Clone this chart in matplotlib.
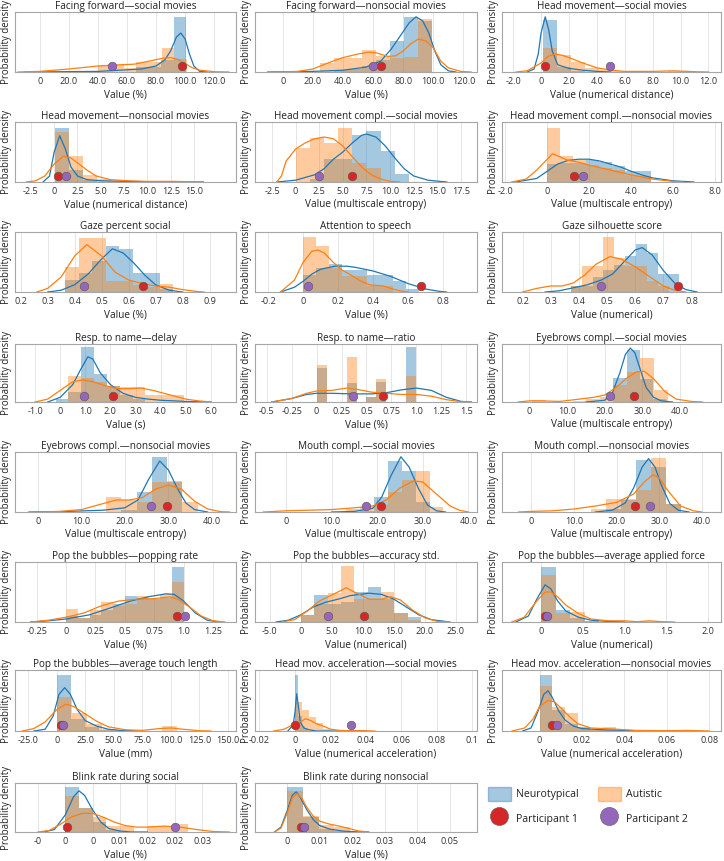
import numpy as np
import matplotlib.pyplot as plt
from matplotlib.patches import Patch
from matplotlib.lines import Line2D

plt.rcParams['font.family'] = ['Open Sans', 'DejaVu Sans']
plt.rcParams['text.color'] = '#222222'
plt.rcParams['axes.labelcolor'] = '#222222'
plt.rcParams['xtick.color'] = '#333333'

NT_COLOR = '#1f77b4'
AU_COLOR = '#ff7f0e'
P1_COLOR = '#d62728'
P2_COLOR = '#9467bd'

titles = [
    'Facing forward\u2014social movies', 'Facing forward\u2014nonsocial movies', 'Head movement\u2014social movies',
    'Head movement\u2014nonsocial movies', 'Head movement compl.\u2014social movies', 'Head movement compl.\u2014nonsocial movies',
    'Gaze percent social', 'Attention to speech', 'Gaze silhouette score',
    'Resp. to name\u2014delay', 'Resp. to name\u2014ratio', 'Eyebrows compl.\u2014social movies',
    'Eyebrows compl.\u2014nonsocial movies', 'Mouth compl.\u2014social movies', 'Mouth compl.\u2014nonsocial movies',
    'Pop the bubbles\u2014popping rate', 'Pop the bubbles\u2014accuracy std.', 'Pop the bubbles\u2014average applied force',
    'Pop the bubbles\u2014average touch length', 'Head mov. acceleration\u2014social movies', 'Head mov. acceleration\u2014nonsocial movies',
    'Blink rate during social', 'Blink rate during nonsocial',
]

xlabels = [
    'Value (%)', 'Value (%)', 'Value (numerical distance)',
    'Value (numerical distance)', 'Value (multiscale entropy)', 'Value (multiscale entropy)',
    'Value (%)', 'Value (%)', 'Value (numerical)',
    'Value (s)', 'Value (%)', 'Value (multiscale entropy)',
    'Value (multiscale entropy)', 'Value (multiscale entropy)', 'Value (multiscale entropy)',
    'Value (%)', 'Value (numerical)', 'Value (numerical)',
    'Value (mm)', 'Value (numerical acceleration)', 'Value (numerical acceleration)',
    'Value (%)', 'Value (%)',
]

xlims = [
    (-17, 135), (-18.4, 129), (-2.8, 12.9),
    (-4.2, 19.5), (-4.3, 19.2), (-2.16, 8.3),
    (0.179, 0.998), (-0.276, 0.994), (0.127, 0.905),
    (-1.8, 7.0), (-0.617, 1.607), (-7.3, 50.9),
    (-5.2, 45.5), (-6.8, 41.9), (-6.9, 44.5),
    (-0.435, 1.446), (-7.4, 28.4), (-0.466, 2.155),
    (-36.5, 157), (-0.0225, 0.1026), (-0.0177, 0.0855),
    (-0.0092, 0.0312), (-0.01, 0.0584),
]

xticks = [
    [0, 20, 40, 60, 80, 100, 120], [0, 20, 40, 60, 80, 100, 120], [-2, 0, 2, 4, 6, 8, 10, 12],
    [-2.5, 0, 2.5, 5, 7.5, 10, 12.5, 15], [-2.5, 0, 2.5, 5, 7.5, 10, 12.5, 15, 17.5], [-2, 0, 2, 4, 6, 8],
    [0.2, 0.3, 0.4, 0.5, 0.6, 0.7, 0.8, 0.9], [-0.2, 0, 0.2, 0.4, 0.6, 0.8], [0.2, 0.3, 0.4, 0.5, 0.6, 0.7, 0.8],
    [-1, 0, 1, 2, 3, 4, 5, 6], [-0.5, -0.25, 0, 0.25, 0.5, 0.75, 1.0, 1.25, 1.5], [0, 10, 20, 30, 40],
    [0, 10, 20, 30, 40], [0, 10, 20, 30, 40], [0, 10, 20, 30, 40],
    [-0.25, 0, 0.25, 0.5, 0.75, 1.0, 1.25], [-5, 0, 5, 10, 15, 20, 25], [0, 0.5, 1.0, 1.5, 2.0],
    [-25, 0, 25, 50, 75, 100, 125, 150], [-0.02, 0, 0.02, 0.04, 0.06, 0.08, 0.1], [0, 0.02, 0.04, 0.06, 0.08],
    [-0.005, 0, 0.005, 0.01, 0.015, 0.02, 0.025], [0, 0.01, 0.02, 0.03, 0.04, 0.05],
]

xticklabels = [
    ['0', '20.0', '40.0', '60.0', '80.0', '100.0', '120.0'],
    ['0', '20.0', '40.0', '60.0', '80.0', '100.0', '120.0'],
    ['-2.0', '0', '2.0', '4.0', '6.0', '8.0', '10.0', '12.0'],
    ['-2.5', '0', '2.5', '5.0', '7.5', '10.0', '12.5', '15.0'],
    ['-2.5', '0', '2.5', '5.0', '7.5', '10.0', '12.5', '15.0', '17.5'],
    ['-2.0', '0', '2.0', '4.0', '6.0', '8.0'],
    ['0.2', '0.3', '0.4', '0.5', '0.6', '0.7', '0.8', '0.9'],
    ['-0.2', '0', '0.2', '0.4', '0.6', '0.8'],
    ['0.2', '0.3', '0.4', '0.5', '0.6', '0.7', '0.8'],
    ['-1.0', '0', '1.0', '2.0', '3.0', '4.0', '5.0', '6.0'],
    ['-0.5', '-0.25', '0', '0.25', '0.5', '0.75', '1.0', '1.25', '1.5'],
    ['0', '10.0', '20.0', '30.0', '40.0'],
    ['0', '10.0', '20.0', '30.0', '40.0'],
    ['0', '10.0', '20.0', '30.0', '40.0'],
    ['0', '10.0', '20.0', '30.0', '40.0'],
    ['-0.25', '0', '0.25', '0.5', '0.75', '1.0', '1.25'],
    ['-5.0', '0', '5.0', '10.0', '15.0', '20.0', '25.0'],
    ['0', '0.5', '1.0', '1.5', '2.0'],
    ['-25.0', '0', '25.0', '50.0', '75.0', '100.0', '125.0', '150.0'],
    ['-0.02', '0', '0.02', '0.04', '0.06', '0.08', '0.1'],
    ['0', '0.02', '0.04', '0.06', '0.08'],
    ['-0', '0', '0', '0.01', '0.02', '0.02', '0.03'],
    ['0', '0.01', '0.02', '0.03', '0.04', '0.05'],
]

# histogram bins: (first edge, bin width); heights are relative densities
nt_bins = [
    (66, 8.7), (34.3, 9.3), (0.12, 1.0),
    (0.1, 1.5), (1.5, 1.5), (0, 0.62),
    (0.365, 0.05), (0, 0.0735), (0.372, 0.0385),
    (-0.18, 0.51), (0, 0.1), (22.3, 3.5),
    (19.2, 3.5), (16.3, 3.05), (17.5, 3.5),
    (0, 0.1), (0, 2.15), (0, 0.175),
    (0, 12.3), (0, 0.0019), (0, 0.006),
    (0, 0.0025), (0, 0.0048),
]
nt_heights = [
    [0.08, 0.08, 0.2, 0.92],
    [0.03, 0.05, 0.1, 0.2, 0.51, 0.92, 0.85],
    [0.86, 0.09, 0.02],
    [0.90, 0.2, 0.04],
    [0.05, 0.38, 0.38, 0.78, 0.85, 0.51, 0.14],
    [0.30, 0.32, 0.32, 0.37, 0.33, 0.26, 0.18, 0.18],
    [0.2, 0.32, 0.52, 0.77, 0.72, 0.32, 0.32, 0.05],
    [0.28, 0.4, 0.46, 0.36, 0.36, 0.29, 0.29, 0.18, 0.05],
    [0.1, 0.1, 0.25, 0.36, 0.45, 0.6, 0.8, 0.65, 0.3, 0.3],
    [0.06, 0.17, 0.95, 0.48, 0.27, 0.12, 0.05],
    [0.58, 0, 0, 0.33, 0, 0.09, 0.35, 0, 0, 0.95],
    [0.42, 0.9, 0.4, 0.05],
    [0.04, 0.33, 0.91, 0.5],
    [0.02, 0.25, 0.85, 0.69, 0.17],
    [0.05, 0.2, 0.86, 0.75, 0.14],
    [0.1, 0.07, 0.12, 0.2, 0.3, 0.44, 0.4, 0.38, 0.4, 0.92],
    [0.12, 0.45, 0.3, 0.33, 0.5, 0.59, 0.38, 0.15, 0.08],
    [0.92, 0.2, 0.07, 0.02],
    [0.91, 0.2, 0.07, 0.02],
    [0.91, 0.25, 0.08, 0.03],
    [0.91, 0.35, 0.11, 0.06, 0.02, 0.02],
    [0.91, 0.48, 0.2, 0.05],
    [0.91, 0.3, 0.07, 0.03],
]

au_bins = [
    (40.3, 8.7), (25, 9.3), (0.12, 1.0),
    (0.1, 1.5), (0, 1.5), (0, 0.62),
    (0.365, 0.05), (0, 0.0735), (0.372, 0.0385),
    (0.33, 0.51), (0, 0.1), (0.7, 3.6),
    (15.7, 3.5), (13.2, 3.05), (14, 3.5),
    (0, 0.1), (0, 2.15), (0, 0.175),
    (0, 13.2), (0, 0.004), (0, 0.006),
    (0, 0.0025), (0, 0.0048),
]
au_heights = [
    [0.12, 0.12, 0.07, 0.16, 0.16, 0.40, 0.22],
    [0.15, 0.23, 0.23, 0.36, 0.26, 0.23, 0.25, 0.89],
    [0.40, 0.28, 0.17, 0.07, 0.03, 0.01, 0, 0, 0, 0.01, 0.01],
    [0.83, 0.43, 0.12, 0.05, 0.02, 0.01, 0.01, 0, 0.01],
    [0.57, 0.74, 0.65, 0.90, 0.31, 0.23],
    [0.90, 0.43, 0.36, 0.28, 0.24, 0.2, 0.12, 0.1],
    [0.41, 0.9, 0.9, 0.18, 0.18, 0.12, 0.08, 0.13],
    [0.91, 0.77, 0.4, 0.26, 0.26, 0.1, 0.1],
    [0.1, 0.44, 0.44, 0.91, 0.57, 0.44, 0.44, 0.18, 0.1],
    [0.44, 0.41, 0.35, 0.27, 0.25, 0.25, 0.12, 0.12, 0.12],
    [0.63, 0, 0, 0.78, 0, 0.09, 0.39, 0, 0, 0.44],
    [0.03, 0, 0, 0.02, 0.05, 0.08, 0.3, 0.52, 0.76, 0.2],
    [0.25, 0.2, 0.17, 0.5, 0.51, 0.17],
    [0.05, 0.08, 0.11, 0.33, 0.54, 0.69, 0.08],
    [0.05, 0.22, 0.22, 0.36, 0.9, 0.14],
    [0.21, 0.07, 0.2, 0.33, 0.26, 0.3, 0.44, 0.38, 0.47, 0.66],
    [0.12, 0.3, 0.49, 0.93, 0.38, 0.38, 0.5, 0.15, 0.03],
    [0.79, 0.15, 0.16, 0.02, 0, 0.01, 0, 0.01],
    [0.56, 0.29, 0.11, 0.03, 0, 0, 0, 0.08],
    [0.48, 0.34, 0.23, 0.13, 0.03],
    [0.74, 0.4, 0.29, 0.05, 0.04, 0.07, 0.01],
    [0.73, 0.48, 0.3, 0.12, 0.12, 0, 0.12, 0.12, 0.16],
    [0.83, 0.32, 0.14, 0.1, 0.02],
]

# density curves as (value, relative density)
nt_kde = [
    [(-10, 0), (40, 0.01), (70, 0.05), (80, 0.1), (86, 0.2), (90, 0.35), (94, 0.58), (97, 0.65), (100, 0.55), (103, 0.3), (106, 0.1), (110, 0.01), (115, 0)],
    [(-10, 0), (20, 0.01), (40, 0.03), (55, 0.08), (65, 0.18), (72, 0.38), (78, 0.6), (84, 0.82), (88.5, 0.92), (93, 0.85), (97, 0.65), (101, 0.35), (105, 0.12), (110, 0.02), (115, 0)],
    [(-1.0, 0), (-0.5, 0.05), (-0.2, 0.3), (0, 0.65), (0.3, 0.92), (0.55, 0.7), (0.8, 0.35), (1.2, 0.12), (2, 0.06), (3, 0.03), (4, 0.01), (5, 0)],
    [(-1.2, 0), (-0.5, 0.1), (0, 0.5), (0.6, 0.77), (1.2, 0.55), (1.8, 0.25), (2.5, 0.1), (3.5, 0.04), (5, 0.02), (8, 0.01), (12, 0), (16, 0)],
    [(-2, 0), (0, 0.03), (2, 0.12), (3, 0.22), (4, 0.38), (5, 0.5), (6, 0.65), (7, 0.78), (7.5, 0.8), (8.5, 0.75), (9.5, 0.6), (10.5, 0.4), (11.5, 0.22), (12.5, 0.1), (14, 0.03), (16, 0)],
    [(-1.5, 0), (-0.5, 0.06), (0, 0.18), (0.5, 0.3), (1, 0.36), (1.5, 0.38), (2, 0.38), (2.5, 0.35), (3, 0.3), (3.5, 0.25), (4, 0.18), (4.5, 0.12), (5, 0.07), (6, 0.02), (7, 0)],
    [(0.3, 0), (0.35, 0.03), (0.4, 0.12), (0.45, 0.3), (0.5, 0.55), (0.54, 0.72), (0.58, 0.65), (0.62, 0.48), (0.66, 0.28), (0.7, 0.12), (0.75, 0.03), (0.8, 0)],
    [(-0.13, 0), (-0.05, 0.08), (0, 0.18), (0.05, 0.3), (0.1, 0.38), (0.18, 0.43), (0.25, 0.43), (0.3, 0.41), (0.4, 0.35), (0.5, 0.26), (0.6, 0.14), (0.7, 0.05), (0.78, 0.01), (0.82, 0)],
    [(0.28, 0), (0.33, 0.02), (0.38, 0.07), (0.43, 0.12), (0.48, 0.2), (0.52, 0.3), (0.56, 0.5), (0.6, 0.7), (0.625, 0.74), (0.66, 0.62), (0.7, 0.36), (0.74, 0.15), (0.78, 0.04), (0.82, 0)],
    [(-0.5, 0), (0, 0.08), (0.5, 0.3), (0.8, 0.55), (1.1, 0.78), (1.3, 0.74), (1.6, 0.5), (2, 0.3), (2.5, 0.15), (3, 0.08), (3.5, 0.05), (4, 0.03), (5, 0.01), (6, 0)],
    [(-0.45, 0), (-0.25, 0.06), (-0.1, 0.13), (0, 0.15), (0.15, 0.15), (0.35, 0.14), (0.55, 0.14), (0.7, 0.16), (0.85, 0.21), (1.0, 0.24), (1.15, 0.2), (1.3, 0.08), (1.45, 0.01), (1.55, 0)],
    [(15, 0), (20, 0.03), (22, 0.15), (24, 0.5), (25.5, 0.82), (26.8, 0.93), (28, 0.85), (29.5, 0.55), (31, 0.25), (33, 0.08), (35, 0.02), (38, 0)],
    [(-2, 0), (5, 0.005), (15, 0.03), (20, 0.07), (23, 0.2), (25.5, 0.55), (28, 0.85), (30, 0.7), (32, 0.4), (34, 0.15), (36, 0.04), (39, 0)],
    [(10, 0), (15, 0.01), (19, 0.06), (21, 0.25), (23, 0.6), (25.2, 0.92), (27, 0.75), (29, 0.4), (31, 0.12), (33, 0.02), (35, 0)],
    [(15, 0), (19, 0.03), (22, 0.15), (24, 0.4), (26, 0.75), (27.5, 0.89), (29, 0.75), (30.5, 0.45), (32.5, 0.14), (34.5, 0.03), (37, 0)],
    [(-0.3, 0), (-0.15, 0.02), (0, 0.05), (0.2, 0.12), (0.4, 0.25), (0.55, 0.35), (0.7, 0.42), (0.85, 0.47), (0.92, 0.46), (1.0, 0.35), (1.1, 0.15), (1.2, 0.03), (1.3, 0)],
    [(-4, 0), (-2, 0.03), (0, 0.12), (2, 0.25), (4, 0.33), (6, 0.38), (8, 0.44), (11, 0.48), (13, 0.46), (15, 0.38), (17, 0.25), (19, 0.12), (21, 0.04), (24, 0)],
    [(-0.3, 0), (-0.15, 0.1), (-0.05, 0.38), (0.05, 0.62), (0.12, 0.55), (0.2, 0.35), (0.3, 0.18), (0.45, 0.08), (0.6, 0.03), (0.8, 0.01), (1.0, 0)],
    [(-20, 0), (-10, 0.03), (-3, 0.25), (2, 0.6), (7, 0.71), (12, 0.6), (18, 0.35), (25, 0.17), (35, 0.08), (45, 0.03), (55, 0.01), (70, 0)],
    [(-0.004, 0), (-0.001, 0.1), (0, 0.3), (0.001, 0.61), (0.002, 0.4), (0.003, 0.15), (0.005, 0.05), (0.008, 0.02), (0.012, 0), (0.04, 0)],
    [(-0.008, 0), (-0.004, 0.05), (-0.001, 0.3), (0.002, 0.6), (0.004, 0.66), (0.006, 0.55), (0.009, 0.33), (0.012, 0.18), (0.016, 0.08), (0.02, 0.04), (0.03, 0.02), (0.04, 0.01), (0.05, 0), (0.07, 0)],
    [(-0.004, 0), (-0.002, 0.05), (0, 0.35), (0.0015, 0.72), (0.0025, 0.84), (0.0035, 0.75), (0.005, 0.45), (0.0065, 0.2), (0.008, 0.07), (0.01, 0.02), (0.012, 0), (0.015, 0)],
    [(-0.004, 0), (-0.002, 0.1), (0, 0.45), (0.0015, 0.75), (0.0027, 0.82), (0.004, 0.7), (0.006, 0.45), (0.008, 0.25), (0.01, 0.13), (0.013, 0.06), (0.017, 0.02), (0.022, 0), (0.025, 0)],
]

au_kde = [
    [(-15, 0), (0, 0.01), (20, 0.05), (40, 0.1), (55, 0.12), (65, 0.13), (75, 0.18), (85, 0.23), (90, 0.24), (95, 0.21), (100, 0.14), (105, 0.07), (110, 0.03), (120, 0.005), (130, 0)],
    [(-5, 0), (10, 0.01), (20, 0.05), (30, 0.15), (40, 0.24), (50, 0.3), (57, 0.33), (62, 0.32), (70, 0.26), (75, 0.27), (80, 0.35), (85, 0.47), (90, 0.55), (95, 0.52), (100, 0.4), (105, 0.18), (110, 0.07), (118, 0.01), (125, 0)],
    [(-1.8, 0), (-1, 0.02), (0, 0.15), (0.5, 0.26), (1, 0.3), (1.5, 0.28), (2, 0.24), (3, 0.15), (4, 0.07), (5, 0.03), (6, 0.01), (8, 0.01), (9.5, 0.02), (11, 0.005), (12, 0)],
    [(-3, 0), (-2, 0.02), (-1, 0.1), (0, 0.3), (1, 0.43), (1.8, 0.4), (2.5, 0.32), (3.5, 0.2), (4.5, 0.1), (6, 0.04), (8, 0.02), (10, 0.01), (13, 0.01), (16, 0)],
    [(-2, 0), (-1.5, 0.1), (-1, 0.35), (0, 0.55), (1, 0.65), (2, 0.72), (3, 0.75), (4, 0.72), (5, 0.6), (6, 0.42), (7, 0.25), (8, 0.12), (9, 0.05), (10, 0.01), (11, 0)],
    [(-1.7, 0), (-1, 0.05), (-0.5, 0.2), (0, 0.38), (0.25, 0.47), (0.6, 0.42), (1, 0.36), (1.5, 0.33), (2, 0.28), (3, 0.2), (4, 0.12), (5, 0.05), (6, 0.01), (6.5, 0)],
    [(0.26, 0), (0.3, 0.06), (0.35, 0.25), (0.4, 0.6), (0.445, 0.79), (0.5, 0.6), (0.55, 0.33), (0.6, 0.2), (0.65, 0.14), (0.7, 0.1), (0.75, 0.08), (0.8, 0.04), (0.85, 0.01), (0.88, 0)],
    [(-0.13, 0), (-0.05, 0.2), (0, 0.5), (0.05, 0.68), (0.085, 0.7), (0.12, 0.65), (0.17, 0.5), (0.22, 0.37), (0.28, 0.27), (0.33, 0.18), (0.38, 0.12), (0.42, 0.11), (0.46, 0.1), (0.5, 0.06), (0.55, 0.02), (0.6, 0)],
    [(0.2, 0), (0.25, 0.06), (0.3, 0.1), (0.34, 0.1), (0.38, 0.15), (0.42, 0.28), (0.46, 0.46), (0.51, 0.59), (0.55, 0.55), (0.6, 0.42), (0.65, 0.26), (0.7, 0.1), (0.74, 0.03), (0.78, 0)],
    [(-1, 0), (-0.5, 0.05), (0, 0.2), (0.5, 0.35), (0.9, 0.38), (1.3, 0.35), (1.8, 0.28), (2.3, 0.23), (2.8, 0.23), (3.2, 0.24), (3.7, 0.2), (4.3, 0.13), (5, 0.05), (5.5, 0.02), (6, 0)],
    [(-0.45, 0), (-0.25, 0.06), (-0.1, 0.15), (0, 0.19), (0.15, 0.2), (0.3, 0.24), (0.4, 0.22), (0.55, 0.17), (0.7, 0.15), (0.85, 0.13), (1.0, 0.13), (1.15, 0.1), (1.3, 0.04), (1.45, 0.005), (1.55, 0)],
    [(-3, 0), (0, 0.02), (3, 0.02), (8, 0.01), (12, 0.04), (17, 0.08), (20, 0.12), (23, 0.25), (26, 0.42), (28.5, 0.52), (30.5, 0.53), (33, 0.4), (36, 0.18), (39, 0.05), (43, 0.01), (46, 0)],
    [(0, 0), (5, 0.01), (10, 0.04), (15, 0.14), (18, 0.2), (21, 0.2), (24, 0.24), (27, 0.38), (30, 0.45), (33, 0.38), (36, 0.18), (39, 0.05), (42, 0.005), (44, 0)],
    [(-5, 0), (0, 0.02), (5, 0.03), (10, 0.04), (15, 0.07), (19, 0.1), (22, 0.2), (25, 0.4), (28, 0.52), (30, 0.5), (33, 0.3), (36, 0.1), (38, 0.03), (40, 0)],
    [(-3, 0), (0, 0.01), (5, 0.02), (10, 0.05), (15, 0.1), (20, 0.16), (24, 0.3), (26.5, 0.5), (28.5, 0.62), (30, 0.57), (32, 0.36), (35, 0.1), (38, 0.02), (40, 0)],
    [(-0.3, 0), (-0.15, 0.03), (0, 0.08), (0.15, 0.15), (0.3, 0.27), (0.45, 0.35), (0.6, 0.38), (0.75, 0.39), (0.88, 0.42), (0.95, 0.38), (1.05, 0.25), (1.15, 0.1), (1.25, 0.02), (1.35, 0)],
    [(-3, 0), (-1, 0.04), (1, 0.18), (3, 0.35), (5, 0.45), (7.3, 0.57), (9, 0.48), (11, 0.38), (13, 0.38), (14.5, 0.42), (16, 0.37), (18, 0.2), (20, 0.07), (22, 0.01), (24, 0)],
    [(-0.35, 0), (-0.2, 0.08), (-0.05, 0.35), (0.05, 0.5), (0.12, 0.5), (0.2, 0.42), (0.3, 0.28), (0.45, 0.14), (0.6, 0.05), (0.8, 0.02), (1.0, 0.02), (1.15, 0.005), (1.3, 0.02), (1.45, 0.005), (1.6, 0)],
    [(-30, 0), (-20, 0.04), (-10, 0.15), (0, 0.35), (8, 0.44), (15, 0.4), (25, 0.28), (35, 0.16), (45, 0.07), (60, 0.02), (75, 0.01), (90, 0.04), (100, 0.05), (110, 0.03), (125, 0.005), (135, 0)],
    [(-0.012, 0), (-0.006, 0.03), (-0.002, 0.09), (0, 0.12), (0.003, 0.15), (0.006, 0.2), (0.009, 0.17), (0.012, 0.12), (0.016, 0.08), (0.02, 0.03), (0.025, 0.01), (0.03, 0.005), (0.04, 0.003), (0.045, 0)],
    [(-0.013, 0), (-0.007, 0.05), (-0.003, 0.2), (0, 0.4), (0.004, 0.5), (0.007, 0.48), (0.01, 0.38), (0.014, 0.24), (0.018, 0.12), (0.024, 0.05), (0.03, 0.04), (0.036, 0.03), (0.045, 0.01), (0.06, 0.005), (0.07, 0.01), (0.08, 0)],
    [(-0.005, 0), (-0.003, 0.03), (-0.001, 0.15), (0.001, 0.3), (0.003, 0.38), (0.005, 0.38), (0.007, 0.3), (0.009, 0.2), (0.011, 0.13), (0.013, 0.1), (0.015, 0.1), (0.018, 0.12), (0.021, 0.1), (0.024, 0.05), (0.027, 0.01), (0.03, 0)],
    [(-0.004, 0), (-0.002, 0.08), (0, 0.4), (0.0015, 0.7), (0.003, 0.78), (0.0045, 0.68), (0.006, 0.5), (0.008, 0.32), (0.01, 0.22), (0.013, 0.16), (0.016, 0.12), (0.019, 0.07), (0.022, 0.02), (0.025, 0)],
]

participant1 = [98.2, 65.5, 0.29, 0.46, 5.95, 1.27, 0.655, 0.672, 0.753, 2.09, 0.667, 27.8,
                29.7, 20.8, 24.2, 0.94, 10.2, 0.044, 3.8, 0.0002, 0.0058, 0.0003, 0.0041]
participant2 = [50.0, 59.7, 4.93, 1.3, 2.46, 1.7, 0.434, 0.029, 0.477, 0.93, 0.36, 21.5,
                26.0, 17.5, 27.9, 1.01, 4.3, 0.076, 5.8, 0.0315, 0.0082, 0.02, 0.005]

# layout in pixels of the 724 x 861 figure
W, H = 724, 861
col_left = [15, 255, 502]
col_width = [221, 222, 219]
row_top = [12, 122, 232, 344, 452, 562, 670, 783]
row_height = [60, 60, 60, 58, 60, 60, 61, 49]

fig = plt.figure(figsize=(W / 100, H / 100), dpi=100)

for i, title in enumerate(titles):
    r, c = divmod(i, 3)
    ax = fig.add_axes([col_left[c] / W, 1 - (row_top[r] + row_height[r]) / H,
                       col_width[c] / W, row_height[r] / H])

    start, width = nt_bins[i]
    h = nt_heights[i]
    ax.bar(start + width * np.arange(len(h)), h, width=width, align='edge',
           color=NT_COLOR, alpha=0.4, linewidth=0)
    start, width = au_bins[i]
    h = au_heights[i]
    ax.bar(start + width * np.arange(len(h)), h, width=width, align='edge',
           color=AU_COLOR, alpha=0.4, linewidth=0)

    kx, ky = zip(*nt_kde[i])
    ax.plot(kx, ky, color=NT_COLOR, lw=0.9)
    kx, ky = zip(*au_kde[i])
    ax.plot(kx, ky, color=AU_COLOR, lw=0.9)

    trans = ax.get_xaxis_transform()
    ax.plot([participant1[i]], [0.1], 'o', transform=trans, ms=6.2, color=P1_COLOR,
            mec='#555555', mew=0.4, zorder=5)
    ax.plot([participant2[i]], [0.1], 'o', transform=trans, ms=6.2, color=P2_COLOR,
            mec='#555555', mew=0.4, zorder=5)

    ax.set_xlim(xlims[i])
    ax.set_ylim(0, 1)
    ax.set_xticks(xticks[i])
    ax.set_xticklabels(xticklabels[i], fontsize=6.6)
    ax.set_yticks([])
    ax.tick_params(axis='x', length=0, pad=3.5)
    ax.grid(axis='x', color='#e5e5e5', lw=0.7)
    ax.set_axisbelow(True)
    for s in ax.spines.values():
        s.set_color('#a6a6a6')
        s.set_linewidth(0.8)
    ax.set_title(title, fontsize=7.2, pad=2.5)
    ax.set_xlabel(xlabels[i], fontsize=7.2, labelpad=2.5)
    ax.set_ylabel('Probability density', fontsize=6.9, labelpad=2)

handles = [
    Patch(facecolor=NT_COLOR, alpha=0.4, edgecolor=NT_COLOR),
    Line2D([], [], marker='o', ls='', ms=13, color=P1_COLOR, mec='#555555', mew=0.4),
    Patch(facecolor=AU_COLOR, alpha=0.4, edgecolor=AU_COLOR),
    Line2D([], [], marker='o', ls='', ms=13, color=P2_COLOR, mec='#555555', mew=0.4),
]
labels = ['Neurotypical', 'Participant 1', 'Autistic', 'Participant 2']
fig.legend(handles, labels, loc='center', bbox_to_anchor=(588 / W, 1 - 806 / H), ncol=2,
           frameon=False, fontsize=7.6, handlelength=2.2, handleheight=1.6,
           columnspacing=1.8, labelspacing=1.0, handletextpad=0.5)

fig.savefig('out.png', dpi=100)
